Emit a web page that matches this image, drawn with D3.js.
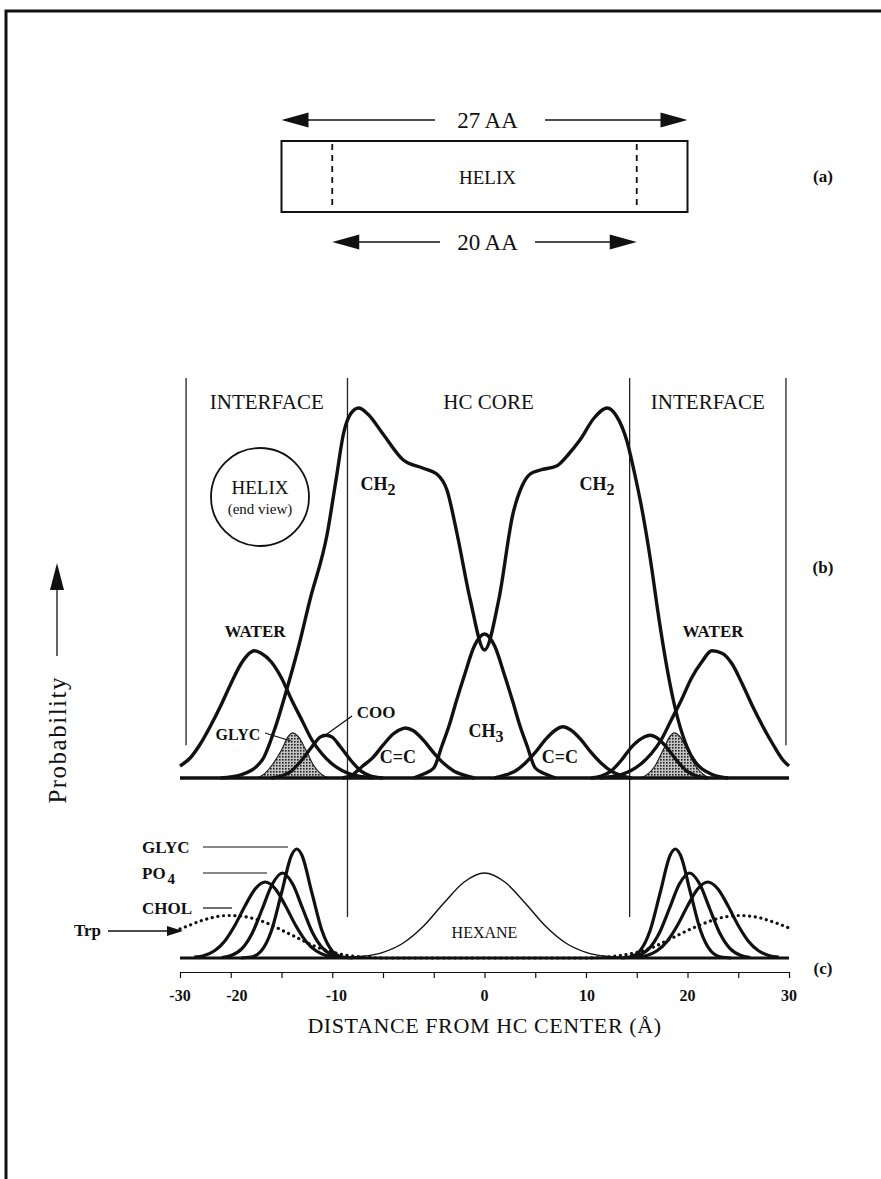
<!DOCTYPE html>
<html>
<head>
<meta charset="utf-8">
<script src="https://cdn.jsdelivr.net/npm/d3@7"></script>
<style>
  body { margin: 0; background: #fff; }
  svg text { font-family: "Liberation Serif", "DejaVu Serif", serif; fill: #111; }
  .b { font-weight: bold; }
</style>
</head>
<body>
<svg id="chart" width="881" height="1179"></svg>
<script>
// ---- data (distance in angstrom, probability in arbitrary units) ----
const xTicks = [-30, -25, -20, -15, -10, -5, 0, 5, 10, 15, 20, 25, 30];
const tickLabels = ['-30', '-20', '-10', '0', '10', '20', '30'];
const tickLabelAt = [-30, -24.4, -14.6, 0, 10.1, 20, 30];   // where the figure prints them
const zoneEdges = [-29.4, -13.5, 14.3, 29.7];
const zoneNames = ['INTERFACE', 'HC CORE', 'INTERFACE'];
const helixSpan = [-20, 20];   // 27 AA
const helixCore = [-15, 15];   // 20 AA

// panel (b)
const ch2 = [[-26,0],[-24,0.08],[-21.9,0.45],[-20.7,1.2],[-19.5,2.2],[-18.3,3.3],[-17.2,4.45],[-15.5,6.1],
  [-14.6,7.5],[-13.9,8.6],[-13.2,9.1],[-12.4,9.25],[-11.5,9.1],[-10,8.6],[-8,7.95],[-6.1,7.75],[-4.7,7.6],
  [-3.7,7.2],[-2.7,6.1],[-1.4,4.45],[0,3.2],[1.4,4.45],[2.8,6.6],[3.7,7.3],[4.5,7.6],[5.5,7.7],[7.1,7.8],
  [8.3,8.1],[9.4,8.45],[10.8,9.0],[12.1,9.25],[13.0,9.05],[14.0,8.45],[14.8,7.6],[15.6,6.6],[16.5,5.2],
  [17.0,4.3],[18.6,1.95],[20.5,0.5],[22.5,0.08],[24,0]];
const ch3 = [[-7,0],[-6,0.1],[-5,0.25],[-4.2,0.8],[-3.5,1.3],[-2.8,1.9],[-2,2.55],[-1,3.3],[0,3.6],
  [1,3.3],[2,2.55],[2.8,1.9],[3.5,1.3],[4.2,0.8],[5,0.25],[6,0.1],[7,0]];
const waterL = [[-30,0.3],[-29,0.5],[-28,0.85],[-27,1.3],[-26,1.8],[-25,2.35],[-24,2.85],[-23,3.15],
  [-22.7,3.18],[-22,3.12],[-21,2.9],[-20,2.5],[-19,1.95],[-18,1.45],[-17,0.95],[-16,0.6],[-15,0.35],
  [-14,0.18],[-13,0.08],[-12,0.03],[-11,0]];
const waterR = [[11.4,0],[12.4,0.03],[13.4,0.08],[14.4,0.18],[15.4,0.35],[16.4,0.6],[17.4,0.95],[18.4,1.45],
  [19.4,1.95],[20.4,2.5],[21.4,2.9],[22.4,3.18],[23.4,3.12],[24.4,2.85],[25.4,2.35],[26.4,1.8],[27.4,1.3],
  [28.4,0.85],[29.4,0.45],[30,0.3]];
const glycBL = [[-22.5,0],[-21.8,0.08],[-21,0.3],[-20,0.7],[-19.3,1.05],[-18.9,1.13],[-18.4,1.05],
  [-17.6,0.7],[-16.8,0.3],[-16,0.08],[-15.3,0]];
const glycBR = [[15.3,0],[16,0.08],[16.8,0.3],[17.6,0.7],[18.3,1.05],[18.7,1.13],[19.2,1.05],[20,0.7],
  [20.8,0.3],[21.6,0.08],[22.3,0]];
const cooL = [[-21,0],[-20,0.05],[-19,0.18],[-18,0.45],[-17,0.78],[-16.2,1.02],[-15.6,1.07],[-15,1.02],
  [-14.2,0.78],[-13.2,0.45],[-12.2,0.18],[-11.2,0.05],[-10,0]];
const cooR = [[10.5,0],[11.5,0.05],[12.5,0.18],[13.5,0.45],[14.5,0.78],[15.7,1.02],[16.3,1.07],[16.9,1.02],
  [17.9,0.78],[18.9,0.45],[19.9,0.18],[20.9,0.05],[22,0]];
const ccL = [[-14,0],[-13,0.08],[-12,0.3],[-11,0.51],[-10,0.82],[-9,1.1],[-8,1.24],[-7.8,1.25],[-7,1.18],
  [-6,0.94],[-5,0.63],[-4,0.36],[-3,0.17],[-2,0.07],[-1,0]];
const ccR = [[1,0],[2,0.07],[3,0.17],[4,0.37],[5,0.64],[6,0.96],[7,1.2],[7.7,1.28],[8.5,1.2],[9.5,0.96],
  [10.5,0.64],[11.5,0.37],[12.5,0.17],[13.5,0.06],[14.5,0]];

// panel (c)
const glycCL = [[-24,0],[-23,0.1],[-22,0.7],[-21,2.7],[-20,6.5],[-19,10.3],[-18.5,10.9],[-18,10.3],
  [-17,6.5],[-16,2.7],[-15,0.7],[-14,0.1],[-13,0]];
const glycCR = [[13.5,0],[14.3,0.1],[15.3,0.7],[16.3,2.7],[17.3,6.5],[18.3,10.3],[18.8,10.9],[19.3,10.3],
  [20.3,6.5],[21.3,2.7],[22.3,0.7],[23.3,0.1],[24.3,0]];
const po4L = [[-25.9,0.05],[-24.9,0.27],[-23.9,0.93],[-22.9,2.45],[-21.9,4.9],[-20.9,7.4],[-19.9,8.5],
  [-18.9,7.4],[-17.9,4.9],[-16.9,2.45],[-15.9,0.93],[-14.9,0.27],[-13.9,0.05]];
const po4R = [[14.2,0.05],[15.2,0.27],[16.2,0.93],[17.2,2.45],[18.2,4.9],[19.2,7.4],[20.2,8.5],[21.2,7.4],
  [22.2,4.9],[23.2,2.45],[24.2,0.93],[25.2,0.27],[26.2,0.05]];
const cholL = [[-28.6,0.08],[-27.6,0.25],[-26.6,0.72],[-25.6,1.68],[-24.6,3.25],[-23.6,5.2],[-22.6,6.9],
  [-21.6,7.6],[-20.6,6.9],[-19.6,5.2],[-18.6,3.25],[-17.6,1.68],[-16.6,0.72],[-15.6,0.25],[-14.6,0.08]];
const cholR = [[15,0.08],[16,0.25],[17,0.72],[18,1.68],[19,3.25],[20,5.2],[21,6.9],[22,7.6],[23,6.9],
  [24,5.2],[25,3.25],[26,1.68],[27,0.72],[28,0.25],[29,0.08]];
const hexane = [[-15,0],[-14,0.05],[-12,0.17],[-10,0.57],[-8,1.5],[-6,3.2],[-4,5.5],[-2,7.6],[0,8.5],
  [2,7.6],[4,5.5],[6,3.2],[8,1.5],[10,0.57],[12,0.17],[14,0.05],[15,0]];
const trp = [[-30,2.9],[-29,3.3],[-28,3.7],[-27,4.0],[-26,4.2],[-25,4.25],[-24,4.2],[-23,4.0],[-22,3.7],
  [-21,3.3],[-20,2.8],[-19,2.3],[-18,1.8],[-17,1.3],[-16,0.9],[-15,0.6],[-14,0.35],[-13,0.2],[-12,0.1],
  [-11,0.04],[-10,0],[10,0],[11,0.04],[12,0.1],[13,0.2],[14,0.35],[15,0.55],[16,0.85],[17,1.25],[18,1.75],
  [19,2.25],[20,2.75],[21,3.2],[22,3.6],[23,3.95],[24,4.15],[25,4.25],[26,4.2],[27,4.05],[28,3.75],
  [29,3.4],[30,3.0]];

// ---- scales ----
const svg = d3.select('#chart');
const x = d3.scaleLinear().domain([-30, 30]).range([180, 789]);
const yB = d3.scaleLinear().domain([0, 10]).range([778, 378]);
const yC = d3.scaleLinear().domain([0, 10]).range([958, 858]);

const lineB = d3.line().x(d => x(d[0])).y(d => yB(d[1])).curve(d3.curveMonotoneX);
const lineC = d3.line().x(d => x(d[0])).y(d => yC(d[1])).curve(d3.curveMonotoneX);
const areaB = d3.area().x(d => x(d[0])).y0(yB(0)).y1(d => yB(d[1])).curve(d3.curveMonotoneX);

// page frame
svg.append('path').attr('d', 'M6,1179V11H881')
  .attr('fill', 'none').attr('stroke', '#111').attr('stroke-width', 3);

// stipple for the shaded GLYC peaks
const pat = svg.append('defs').append('pattern').attr('id', 'stip')
  .attr('width', 3).attr('height', 3).attr('patternUnits', 'userSpaceOnUse');
pat.append('rect').attr('width', 3).attr('height', 3).attr('fill', '#c4c4c4');
pat.append('rect').attr('width', 1.6).attr('height', 1.6).attr('fill', '#222');

function arrowHead(g, tipX, tipY, dir, len, half) {
  // dir: -1 points left, 1 right, 'up' points up
  let pts;
  if (dir === 'up') pts = [[tipX, tipY], [tipX - half, tipY + len], [tipX + half, tipY + len]];
  else pts = [[tipX, tipY], [tipX - dir * len, tipY - half], [tipX - dir * len, tipY + half]];
  g.append('polygon').attr('points', pts.map(p => p.join(',')).join(' ')).attr('fill', '#111');
}

function spanArrow(lo, hi, y, label, gapL, gapR) {
  const g = svg.append('g');
  const xl = x(lo), xr = x(hi);
  g.append('line').attr('x1', xl + 10).attr('x2', gapL).attr('y1', y).attr('y2', y)
    .attr('stroke', '#111').attr('stroke-width', 1.5);
  g.append('line').attr('x1', gapR).attr('x2', xr - 10).attr('y1', y).attr('y2', y)
    .attr('stroke', '#111').attr('stroke-width', 1.5);
  arrowHead(g, xl, y, -1, 27, 7.5);
  arrowHead(g, xr, y, 1, 27, 7.5);
  g.append('text').attr('x', x(0) + 3).attr('y', y + 8).attr('text-anchor', 'middle')
    .style('font-size', '23px').text(label);
}

// ---- panel (a): helix ----
spanArrow(helixSpan[0], helixSpan[1], 120, '27 AA', 435, 545);
spanArrow(helixCore[0], helixCore[1], 242, '20 AA', 440, 535);
svg.append('rect').attr('x', x(helixSpan[0])).attr('y', 141)
  .attr('width', x(helixSpan[1]) - x(helixSpan[0])).attr('height', 71)
  .attr('fill', 'none').attr('stroke', '#111').attr('stroke-width', 2);
helixCore.forEach(v => {
  svg.append('line').attr('x1', x(v)).attr('x2', x(v)).attr('y1', 144).attr('y2', 210)
    .attr('stroke', '#111').attr('stroke-width', 1.8).attr('stroke-dasharray', '6,5');
});
svg.append('text').attr('x', x(0) + 3).attr('y', 184).attr('text-anchor', 'middle')
  .style('font-size', '19px').text('HELIX');
svg.append('text').attr('class', 'b').attr('x', 823).attr('y', 182).attr('text-anchor', 'middle')
  .style('font-size', '17px').text('(a)');

// ---- panel (b): bilayer profile ----
zoneEdges.forEach((v, i) => {
  const inner = i === 1 || i === 2;
  svg.append('line').attr('x1', x(v)).attr('x2', x(v)).attr('y1', yB(10))
    .attr('y2', inner ? yC(4.1) : yB(0.82))
    .attr('stroke', '#222').attr('stroke-width', 1.3);
});
zoneNames.forEach((n, i) => {
  svg.append('text').attr('x', x((zoneEdges[i] + zoneEdges[i + 1]) / 2)).attr('y', 409)
    .attr('text-anchor', 'middle').style('font-size', '21px').text(n);
});

svg.append('circle').attr('cx', 260).attr('cy', 497).attr('r', 49)
  .attr('fill', 'none').attr('stroke', '#111').attr('stroke-width', 1.8);
svg.append('text').attr('x', 260).attr('y', 494).attr('text-anchor', 'middle')
  .style('font-size', '19px').text('HELIX');
svg.append('text').attr('x', 260).attr('y', 514).attr('text-anchor', 'middle')
  .style('font-size', '15px').text('(end view)');

[glycBL, glycBR].forEach(d => {
  svg.append('path').datum(d).attr('d', areaB)
    .attr('fill', 'url(#stip)').attr('stroke', '#222').attr('stroke-width', 1.2);
});

// baseline (b)
svg.append('line').attr('x1', x(-30)).attr('x2', x(30)).attr('y1', yB(0)).attr('y2', yB(0))
  .attr('stroke', '#111').attr('stroke-width', 3.5);

[ch2, ch3, waterL, waterR, cooL, cooR, ccL, ccR].forEach(d => {
  svg.append('path').datum(d).attr('d', lineB)
    .attr('fill', 'none').attr('stroke', '#111').attr('stroke-width', 3.4)
    .attr('stroke-linejoin', 'round');
});

function chem(xc, y, base, sub, size) {
  const t = svg.append('text').attr('class', 'b').attr('x', xc).attr('y', y)
    .attr('text-anchor', 'middle').style('font-size', size + 'px');
  t.append('tspan').text(base);
  if (sub) t.append('tspan').attr('dy', 5).style('font-size', (size - 2) + 'px').text(sub);
  return t;
}
chem(378, 490, 'CH', '2', 18);
chem(597, 490, 'CH', '2', 18);
chem(486, 737, 'CH', '3', 18);
chem(255, 637, 'WATER', null, 17);
chem(713, 637, 'WATER', null, 17);
chem(376, 718, 'COO', null, 17);
chem(238, 740, 'GLYC', null, 16);
chem(398, 763, 'C=C', null, 18);
chem(560, 763, 'C=C', null, 18);
svg.append('line').attr('x1', 352).attr('y1', 716).attr('x2', 327).attr('y2', 734)
  .attr('stroke', '#111').attr('stroke-width', 1.3);
svg.append('line').attr('x1', 265).attr('y1', 733).attr('x2', 291).attr('y2', 741)
  .attr('stroke', '#111').attr('stroke-width', 1.3);
svg.append('text').attr('class', 'b').attr('x', 823).attr('y', 573).attr('text-anchor', 'middle')
  .style('font-size', '17px').text('(b)');

// probability arrow
const pa = svg.append('g');
pa.append('line').attr('x1', 57).attr('x2', 57).attr('y1', 656).attr('y2', 585)
  .attr('stroke', '#111').attr('stroke-width', 1.3);
arrowHead(pa, 57, 563, 'up', 27, 7);
svg.append('text').attr('transform', 'translate(66,676) rotate(-90)')
  .attr('text-anchor', 'end').style('font-size', '25px').style('letter-spacing', '1.5px')
  .text('Probability');

// ---- panel (c): solutes ----
svg.append('line').attr('x1', x(-30)).attr('x2', x(30)).attr('y1', yC(0)).attr('y2', yC(0))
  .attr('stroke', '#111').attr('stroke-width', 3);
svg.append('path').datum(trp).attr('d', lineC)
  .attr('fill', 'none').attr('stroke', '#111').attr('stroke-width', 3.2)
  .attr('stroke-linecap', 'round').attr('stroke-dasharray', '0.1,5.6');
svg.append('path').datum(hexane).attr('d', lineC)
  .attr('fill', 'none').attr('stroke', '#111').attr('stroke-width', 1.4);
[glycCL, glycCR, po4L, po4R, cholL, cholR].forEach(d => {
  svg.append('path').datum(d).attr('d', lineC)
    .attr('fill', 'none').attr('stroke', '#111').attr('stroke-width', 3.2)
    .attr('stroke-linejoin', 'round');
});

function leftLabel(y, base, sub, x2) {
  const t = svg.append('text').attr('class', 'b').attr('x', 142).attr('y', y + 6)
    .style('font-size', '17px');
  t.append('tspan').text(base);
  if (sub) t.append('tspan').attr('dy', 5).attr('dx', 2).style('font-size', '15px').text(sub);
  svg.append('line').attr('x1', 203).attr('x2', x2).attr('y1', y).attr('y2', y)
    .attr('stroke', '#111').attr('stroke-width', 1.2);
}
leftLabel(847, 'GLYC', null, 288);
leftLabel(873, 'PO', '4', 267);
leftLabel(908, 'CHOL', null, 232);

svg.append('text').attr('class', 'b').attr('x', 101).attr('y', 936).attr('text-anchor', 'end')
  .style('font-size', '17px').text('Trp');
const ta = svg.append('g');
ta.append('line').attr('x1', 108).attr('x2', 170).attr('y1', 931).attr('y2', 931)
  .attr('stroke', '#111').attr('stroke-width', 1.3);
arrowHead(ta, 183, 931, 1, 16, 5);

svg.append('text').attr('x', x(0)).attr('y', 938).attr('text-anchor', 'middle')
  .style('font-size', '16px').text('HEXANE');
svg.append('text').attr('class', 'b').attr('x', 823).attr('y', 974).attr('text-anchor', 'middle')
  .style('font-size', '17px').text('(c)');

// ---- x axis ----
const axisY = 972;
const gAxis = svg.append('g').attr('transform', `translate(0,${axisY})`)
  .call(d3.axisBottom(x).tickValues(xTicks).tickSize(6).tickSizeOuter(0).tickFormat(''));
gAxis.selectAll('path, line').attr('stroke', '#111').attr('stroke-width', 1.2);
svg.append('g').selectAll('text').data(tickLabels).join('text')
  .attr('class', 'b').attr('x', (d, i) => x(tickLabelAt[i])).attr('y', 1001)
  .attr('text-anchor', 'middle').style('font-size', '16px').text(d => d);
svg.append('text').attr('x', x(0)).attr('y', 1033).attr('text-anchor', 'middle')
  .style('font-size', '22px').style('letter-spacing', '0.6px')
  .text('DISTANCE FROM HC CENTER (\u00C5)');
</script>
</body>
</html>
